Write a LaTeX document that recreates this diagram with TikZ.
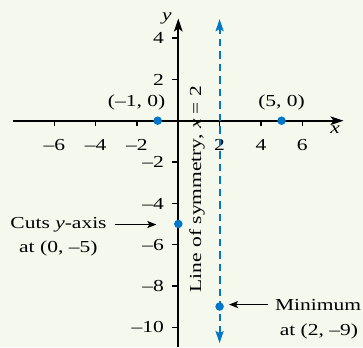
\documentclass[tikz,border=0pt]{standalone}
\usepackage{fontspec}
\setmainfont{Liberation Serif}[FakeStretch=1.28]
\usetikzlibrary{arrows.meta,calc}
\definecolor{bg}{RGB}{245,248,237}
\definecolor{cblue}{RGB}{0,119,200}
\begin{document}
\begin{tikzpicture}[x=20.65bp,y=20.65bp,
  font=\fontsize{16.8bp}{24.5bp}\selectfont,
  axis/.style={line width=1.6bp, -{Stealth[length=13bp,width=8.5bp,inset=3bp]}},
  tickmark/.style={line width=1.2bp},
  dot/.style={circle, fill=cblue, inner sep=0pt, minimum size=8.5bp},
  arr/.style={line width=1.3bp, -{Stealth[length=9bp,width=7bp,inset=2bp]}},
  lbl/.style={inner sep=0pt},
  symline/.style={cblue, line width=2bp, dash pattern=on 7.5bp off 5bp,
    {Stealth[length=12bp,width=8bp,inset=2bp]}-{Stealth[length=12bp,width=8bp,inset=2bp]}}]
\fill[bg] (-8.634,-10.959) rectangle (8.944,5.845);
\useasboundingbox (-8.634,-10.959) rectangle (8.944,5.845);
% axes
\coordinate (xl) at (-8,0);
\coordinate (xr) at (8,0);
\coordinate (yb) at (0,-10.96);
\coordinate (yt) at (0,4.95);
\draw[axis] (xl) -- (xr);
\draw[axis] (yb) -- (yt);
% x ticks
\foreach \x/\t in {-6/–6,-4/–4,-2/–2,2/2,4/4,6/6}{
  \draw[tickmark] (\x,0) -- (\x,-0.27);
  \node[lbl, anchor=base] (xt\x) at (\x,-1.45) {\t};
}
% y ticks
\foreach \y/\t in {4/4,2/2,-2/–2,-4/–4,-6/–6,-8/–8,-10/–10}{
  \draw[tickmark] (0,\y) -- (-0.3,\y);
  \node[lbl, anchor=base east] (yt\y) at (-0.69,\y-0.28) {\t};
}
% axis labels
\node[lbl, anchor=base] (ly) at (-0.55,4.83) {\textit{y}};
\node[lbl, anchor=base] (lx) at (7.59,-0.60) {\textit{x}};
% line of symmetry
\coordinate (st) at (2,4.92);
\coordinate (sb) at (2,-10.77);
\draw[symline] (sb) -- (st);
\node[lbl, rotate=90, anchor=base] (sym) at (1.10,-3.31) {Line of symmetry, \textit{x} = 2};
% points
\node[dot] (pA) at (-1,0) {};
\node[dot] (pB) at (5,0) {};
\node[dot] (pC) at (0,-5) {};
\node[dot] (pM) at (2,-9) {};
\node[lbl, anchor=base] (lA) at (-2.02,0.70) {(–1, 0)};
\node[lbl, anchor=base] (lB) at (5.0,0.70) {(5, 0)};
% annotations
\node[lbl, anchor=base] (cA) at (-5.80,-5.21) {Cuts \textit{y}-axis};
\node[lbl, anchor=base] (cB) at (-5.81,-6.39) {at (0, –5)};
\draw[arr, shorten <=8bp, shorten >=17.5bp] (cA.east) -- (cA.east -| pC.west);
\node[lbl, anchor=base] (mA) at (6.77,-9.17) {Minimum};
\node[lbl, anchor=base] (mB) at (6.81,-10.38) {at (2, –9)};
\draw[arr, shorten <=7bp, shorten >=5bp] (mA.west) -- (mA.west -| pM.east);
\end{tikzpicture}
\end{document}
